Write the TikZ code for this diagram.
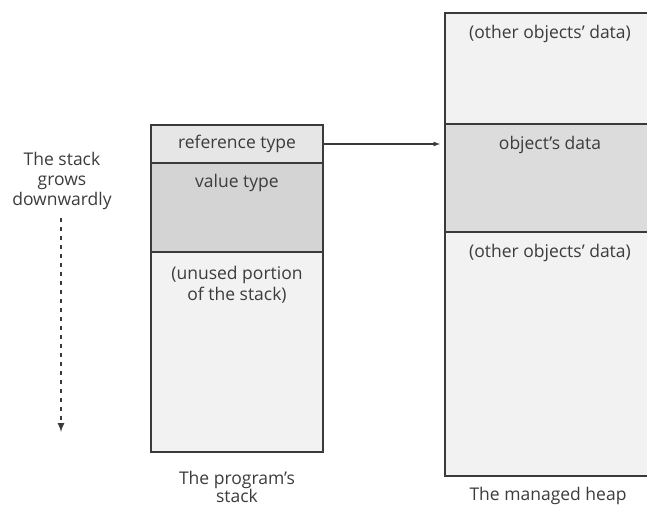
\documentclass[tikz,border=0pt]{standalone}
\usepackage{fontspec}
\setmainfont{Open Sans}
\usepackage{xcolor}
\usetikzlibrary{positioning}

\definecolor{lightcell}{HTML}{F2F2F2}
\definecolor{refcell}{HTML}{E6E6E6}
\definecolor{valcell}{HTML}{D4D4D4}
\definecolor{objcell}{HTML}{DCDCDC}
\definecolor{edgegray}{HTML}{3A3A3A}
\definecolor{textgray}{HTML}{3C3C3C}

\tikzset{
    cell/.style={draw=edgegray, line width=1.5pt, anchor=north west,
        inner sep=0pt, outer sep=0pt},
    lbl/.style={font=\fontsize{17.5}{21}\selectfont, text=textgray, align=center, inner sep=0pt}
}

\begin{document}
\begin{tikzpicture}[>=latex, x=1pt, y=-1pt]
    \useasboundingbox (0,0) rectangle (647,506);
    \clip (0,0) rectangle (647,506);
    % 1. Ngăn xếp (stack)
    \node[cell, fill=refcell, minimum width=172pt, minimum height=38pt] (ref) at (151,125) {};
    \node[cell, fill=valcell, minimum width=172pt, minimum height=89pt] (val) at (ref.south west) {};
    \node[cell, fill=lightcell, minimum width=172pt, minimum height=200pt] (unused) at (val.south west) {};
    \node[lbl] (reftxt) at (ref.center) {reference type};
    \node[lbl, yshift=-20pt] (valtxt) at (val.north) {value type};
    \node[lbl, yshift=-33pt] (unusedtxt) at (unused.north) {(unused portion\\of the stack)};
    \node[lbl, font=\fontsize{17.5}{18}\selectfont, yshift=-35pt] (stacktxt) at (unused.south) {The program's\\stack};

    % 2. Vùng heap
    \node[cell, fill=lightcell, minimum width=210pt, minimum height=111pt] (heaptop) at (445,13) {};
    \node[cell, fill=objcell, minimum width=210pt, minimum height=108pt] (obj) at (heaptop.south west) {};
    \node[cell, fill=lightcell, minimum width=210pt, minimum height=244pt] (heapbot) at (obj.south west) {};
    \node[lbl, yshift=-21pt] (toptxt) at (heaptop.north) {(other objects' data)};
    \node[lbl, yshift=-21pt] (objtxt) at (obj.north) {object's data};
    \node[lbl, yshift=-21pt] (bottxt) at (heapbot.north) {(other objects' data)};
    \node[lbl] (heaptxt) at (548,496) {The managed heap};

    % 3. Mũi tên tham chiếu
    \draw[->, line width=1.2pt, edgegray, shorten >=5pt] (ref.east) -- (ref.east -| obj.west);

    % 4. Chiều tăng của stack
    \node[lbl, font=\fontsize{17.5}{20}\selectfont] (grow) at (62,181) {The stack\\grows\\downwardly};
    \coordinate (growend) at (61,432);
    \draw[->, line width=2pt, edgegray, dash pattern=on 4pt off 5pt, shorten <=8pt]
        (grow.south -| growend) -- (growend);
\end{tikzpicture}
\end{document}
